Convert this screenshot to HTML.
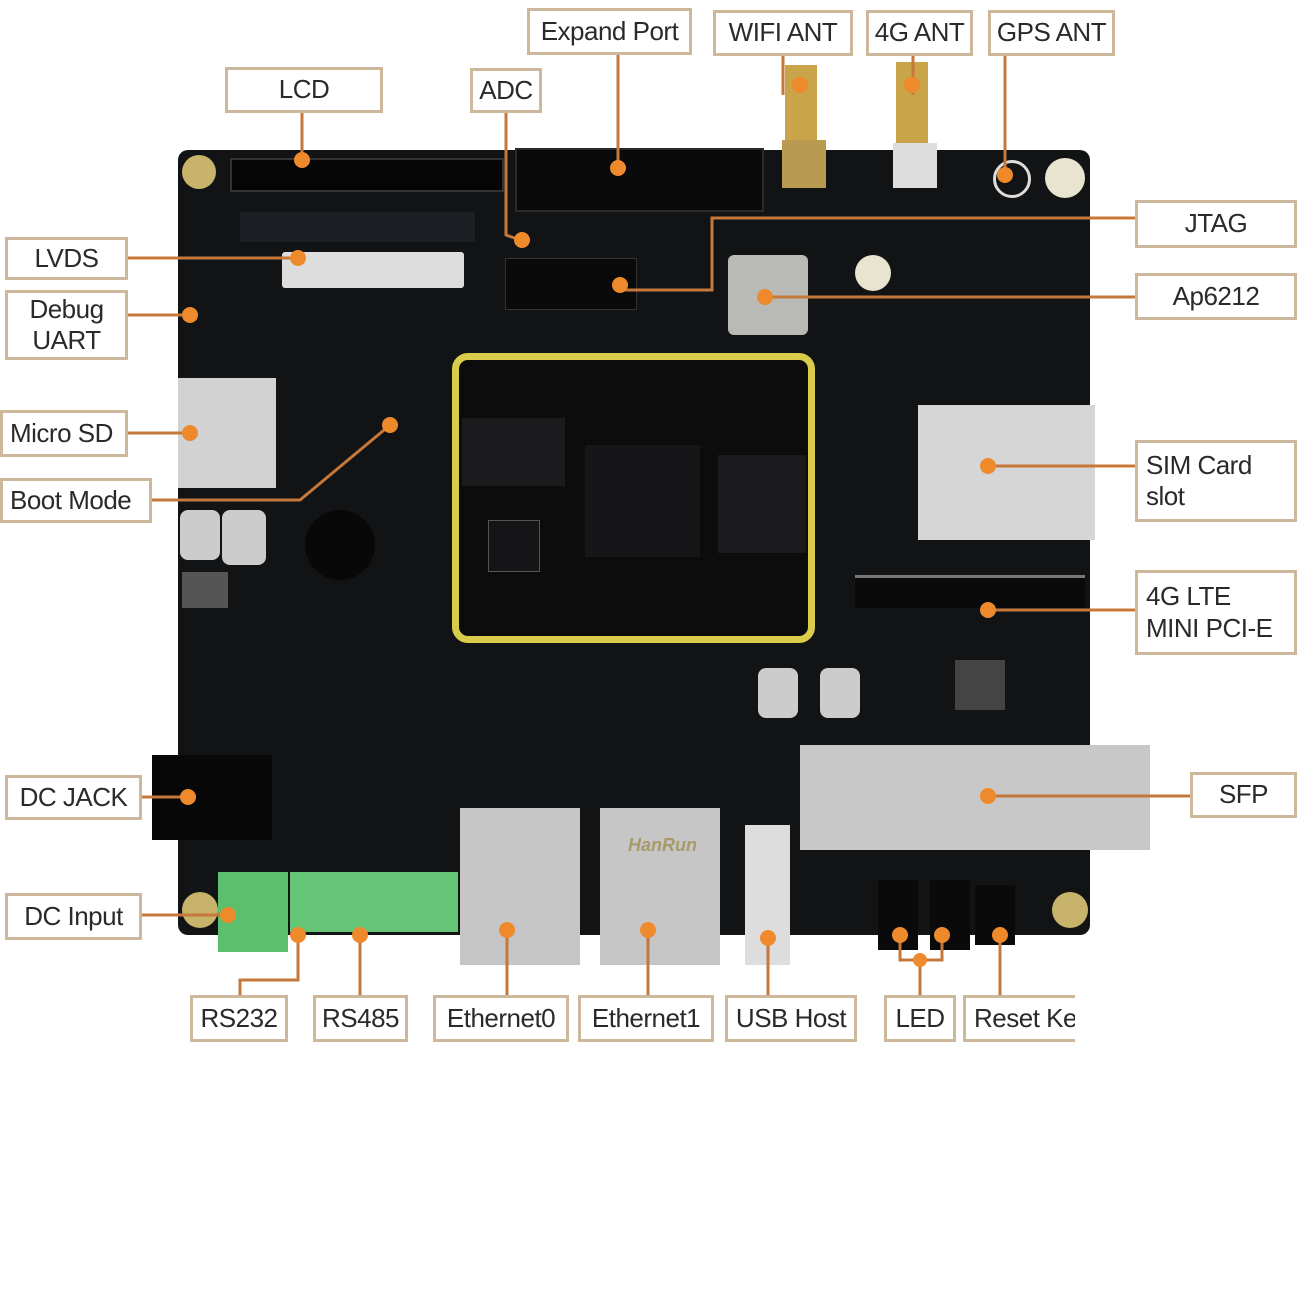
<!DOCTYPE html>
<html><head><meta charset="utf-8"><style>
html,body{margin:0;padding:0;background:#fff;}
body{width:1300px;height:1300px;position:relative;overflow:hidden;font-family:"Liberation Sans",sans-serif;}
.a{position:absolute;}
.lb{position:absolute;box-sizing:border-box;border:3px solid #cdb89c;background:#fff;color:#2a2a2a;font-size:26px;line-height:1.2;display:flex;align-items:center;justify-content:center;text-align:center;letter-spacing:-0.5px;white-space:nowrap;overflow:hidden;}
.lb.l{justify-content:flex-start;padding-left:8px;text-align:left;}
</style></head><body>
<div class="a" style="left:178px;top:150px;width:912px;height:785px;background:#121315;border-radius:10px;"></div>
<div class="a" style="left:230px;top:158px;width:270px;height:30px;background:#050505;border:2px solid #333;"></div>
<div class="a" style="left:515px;top:148px;width:245px;height:60px;background:#0a0a0a;border:2px solid #2a2a2a;"></div>
<div class="a" style="left:240px;top:212px;width:235px;height:30px;background:#1c1f24;"></div>
<div class="a" style="left:282px;top:252px;width:182px;height:36px;background:#ddd;border-radius:3px;"></div>
<div class="a" style="left:728px;top:255px;width:80px;height:80px;background:#b9bab5;border-radius:6px;"></div>
<div class="a" style="left:505px;top:258px;width:130px;height:50px;background:#0a0a0a;border:1px solid #333;"></div>
<div class="a" style="left:785px;top:65px;width:32px;height:80px;background:#c9a449;"></div>
<div class="a" style="left:782px;top:140px;width:44px;height:48px;background:#b89a50;"></div>
<div class="a" style="left:896px;top:62px;width:32px;height:85px;background:#c9a449;"></div>
<div class="a" style="left:893px;top:143px;width:44px;height:45px;background:#ddd;"></div>
<div class="a" style="left:993px;top:160px;width:38px;height:38px;border-radius:50%;border:3px solid #ddd;box-sizing:border-box;"></div>
<div class="a" style="left:1045px;top:158px;width:40px;height:40px;border-radius:50%;background:#e8e4d0;"></div>
<div class="a" style="left:182px;top:155px;width:34px;height:34px;border-radius:50%;background:#c8b36a;"></div>
<div class="a" style="left:855px;top:255px;width:36px;height:36px;border-radius:50%;background:#e8e4d0;"></div>
<div class="a" style="left:178px;top:378px;width:98px;height:110px;background:#d2d2d2;"></div>
<div class="a" style="left:180px;top:510px;width:40px;height:50px;background:#ccc;border-radius:8px;"></div>
<div class="a" style="left:222px;top:510px;width:44px;height:55px;background:#ccc;border-radius:8px;"></div>
<div class="a" style="left:305px;top:510px;width:70px;height:70px;border-radius:50%;background:#080808;"></div>
<div class="a" style="left:182px;top:572px;width:46px;height:36px;background:#555;"></div>
<div class="a" style="left:452px;top:353px;width:363px;height:290px;box-sizing:border-box;border:7px solid #d8cc4a;border-radius:16px;background:#0c0c0c;"></div>
<div class="a" style="left:462px;top:418px;width:103px;height:68px;background:#1b1b1d;"></div>
<div class="a" style="left:585px;top:445px;width:115px;height:112px;background:#161618;"></div>
<div class="a" style="left:718px;top:455px;width:88px;height:98px;background:#1a1a1c;"></div>
<div class="a" style="left:488px;top:520px;width:50px;height:50px;background:#151517;border:1px solid #555;"></div>
<div class="a" style="left:918px;top:405px;width:177px;height:135px;background:#d6d6d6;"></div>
<div class="a" style="left:855px;top:575px;width:230px;height:30px;background:#0a0a0a;border-top:3px solid #777;"></div>
<div class="a" style="left:758px;top:668px;width:40px;height:50px;border-radius:8px;background:#ccc;"></div>
<div class="a" style="left:820px;top:668px;width:40px;height:50px;border-radius:8px;background:#ccc;"></div>
<div class="a" style="left:955px;top:660px;width:50px;height:50px;background:#444;"></div>
<div class="a" style="left:800px;top:745px;width:350px;height:105px;background:#c8c8c8;"></div>
<div class="a" style="left:152px;top:755px;width:120px;height:85px;background:#080808;"></div>
<div class="a" style="left:218px;top:872px;width:70px;height:80px;background:#5cbf6e;"></div>
<div class="a" style="left:290px;top:872px;width:168px;height:60px;background:#64c577;"></div>
<div class="a" style="left:460px;top:808px;width:120px;height:157px;background:#c6c6c6;"></div>
<div class="a" style="left:600px;top:808px;width:120px;height:157px;background:#c6c6c6;"></div>
<div class="a" style="left:620px;top:835px;width:85px;text-align:center;font-size:18px;color:#a89a6a;font-style:italic;font-weight:bold;">HanRun</div>
<div class="a" style="left:745px;top:825px;width:45px;height:140px;background:#ddd;"></div>
<div class="a" style="left:878px;top:880px;width:40px;height:70px;background:#0a0a0a;"></div>
<div class="a" style="left:930px;top:880px;width:40px;height:70px;background:#0a0a0a;"></div>
<div class="a" style="left:975px;top:885px;width:40px;height:60px;background:#0a0a0a;"></div>
<div class="a" style="left:182px;top:892px;width:36px;height:36px;border-radius:50%;background:#c8b36a;"></div>
<div class="a" style="left:1052px;top:892px;width:36px;height:36px;border-radius:50%;background:#c8b36a;"></div>

<svg class="a" style="left:0;top:0" width="1300" height="1300">
<g stroke="#c5783a" stroke-width="3" fill="none">
<path d="M302 113V160"/><path d="M618 55V168"/><path d="M783 56V95"/><path d="M913 56V95"/><path d="M1005 56V172"/>
<path d="M506 113V235L520 240"/>
<path d="M128 258H298"/><path d="M128 315H188"/><path d="M128 433H188"/><path d="M152 500H300L390 425"/>
<path d="M1135 218H712V290H620"/><path d="M1135 297H765"/>
<path d="M1135 466H988"/><path d="M1135 610H988"/><path d="M1190 796H988"/>
<path d="M142 797H188"/><path d="M142 915H225"/>
<path d="M240 995V980H298V935"/><path d="M360 995V935"/><path d="M507 995V930"/><path d="M648 995V930"/><path d="M768 995V938"/>
<path d="M920 995V960M900 935V960H942V935"/><path d="M1000 995V935"/>
</g>
<g fill="#ef8a2c">
<circle cx="302" cy="160" r="8"/><circle cx="618" cy="168" r="8"/><circle cx="800" cy="85" r="8"/><circle cx="912" cy="85" r="8"/><circle cx="1005" cy="175" r="8"/>
<circle cx="522" cy="240" r="8"/><circle cx="298" cy="258" r="8"/><circle cx="190" cy="315" r="8"/><circle cx="190" cy="433" r="8"/><circle cx="390" cy="425" r="8"/>
<circle cx="620" cy="285" r="8"/><circle cx="765" cy="297" r="8"/><circle cx="988" cy="466" r="8"/><circle cx="988" cy="610" r="8"/><circle cx="988" cy="796" r="8"/>
<circle cx="188" cy="797" r="8"/><circle cx="228" cy="915" r="8"/><circle cx="298" cy="935" r="8"/><circle cx="360" cy="935" r="8"/><circle cx="507" cy="930" r="8"/><circle cx="648" cy="930" r="8"/><circle cx="768" cy="938" r="8"/>
<circle cx="900" cy="935" r="8"/><circle cx="942" cy="935" r="8"/><circle cx="920" cy="960" r="7"/><circle cx="1000" cy="935" r="8"/>
</g>
</svg>

<div class="lb" style="left:225px;top:67px;width:158px;height:46px;">LCD</div>
<div class="lb" style="left:527px;top:8px;width:165px;height:47px;">Expand Port</div>
<div class="lb" style="left:713px;top:10px;width:140px;height:46px;">WIFI ANT</div>
<div class="lb" style="left:866px;top:10px;width:107px;height:46px;">4G ANT</div>
<div class="lb" style="left:988px;top:10px;width:127px;height:46px;">GPS ANT</div>
<div class="lb" style="left:470px;top:68px;width:72px;height:45px;">ADC</div>
<div class="lb" style="left:5px;top:237px;width:123px;height:43px;">LVDS</div>
<div class="lb" style="left:5px;top:290px;width:123px;height:70px;">Debug<br>UART</div>
<div class="lb l" style="left:0px;top:410px;width:128px;height:47px;padding-left:7px;">Micro SD</div>
<div class="lb l" style="left:0px;top:478px;width:152px;height:45px;padding-left:7px;">Boot Mode</div>
<div class="lb" style="left:1135px;top:200px;width:162px;height:48px;">JTAG</div>
<div class="lb" style="left:1135px;top:273px;width:162px;height:47px;">Ap6212</div>
<div class="lb l" style="left:1135px;top:440px;width:162px;height:82px;">SIM Card<br>slot</div>
<div class="lb l" style="left:1135px;top:570px;width:162px;height:85px;">4G LTE<br>MINI PCI-E</div>
<div class="lb" style="left:1190px;top:772px;width:107px;height:46px;">SFP</div>
<div class="lb" style="left:5px;top:775px;width:137px;height:45px;">DC JACK</div>
<div class="lb" style="left:5px;top:893px;width:137px;height:47px;">DC Input</div>
<div class="lb" style="left:190px;top:995px;width:98px;height:47px;">RS232</div>
<div class="lb" style="left:313px;top:995px;width:95px;height:47px;">RS485</div>
<div class="lb" style="left:433px;top:995px;width:136px;height:47px;">Ethernet0</div>
<div class="lb" style="left:578px;top:995px;width:136px;height:47px;">Ethernet1</div>
<div class="lb" style="left:725px;top:995px;width:132px;height:47px;">USB Host</div>
<div class="lb" style="left:884px;top:995px;width:72px;height:47px;">LED</div>
<div class="lb l" style="left:963px;top:995px;width:150px;height:47px;">Reset Key</div>
<div class="a" style="left:1075px;top:990px;width:60px;height:60px;background:#fff;"></div>
</body></html>
